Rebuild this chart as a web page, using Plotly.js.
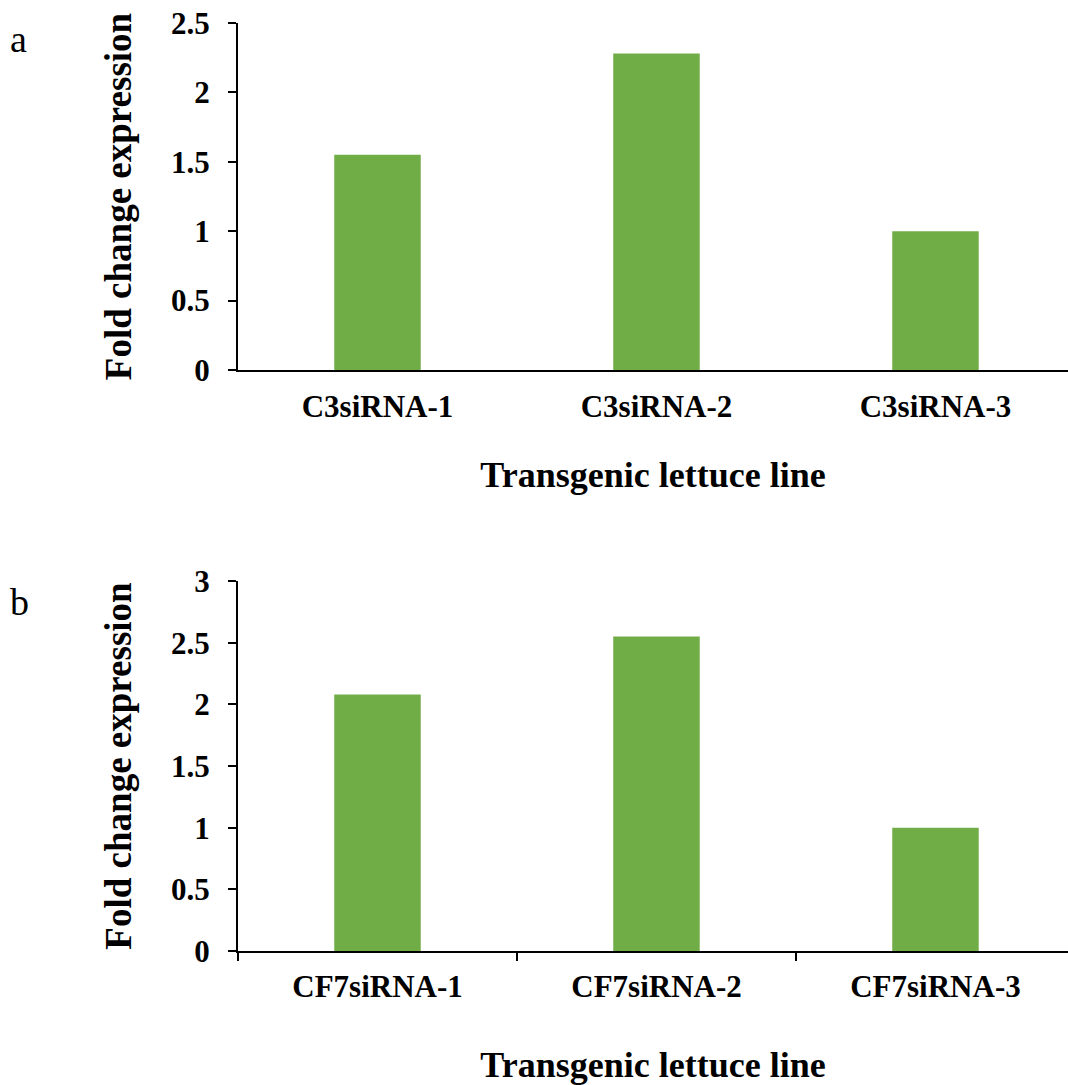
<!DOCTYPE html>
<html>
<head>
<meta charset="utf-8">
<script src="https://cdn.plot.ly/plotly-3.0.1.min.js"></script>
<style>
  html, body { margin: 0; padding: 0; background: #ffffff; overflow: hidden; }
  #chart { width: 1068px; height: 1085px; }
</style>
</head>
<body>
<div id="chart"></div>
<script>
// Panel a
const linesA = ["C3siRNA-1", "C3siRNA-2", "C3siRNA-3"];
const foldA = [1.55, 2.28, 1.0];
// Panel b
const linesB = ["CF7siRNA-1", "CF7siRNA-2", "CF7siRNA-3"];
const foldB = [2.08, 2.55, 1.0];

const yTicksA = [0, 0.5, 1, 1.5, 2, 2.5];
const yTicksB = [0, 0.5, 1, 1.5, 2, 2.5, 3];

const xTitle = "Transgenic lettuce line";
const yTitle = "Fold change expression";
const panelLabels = ["a", "b"];

const FONT = '"Liberation Serif", "Times New Roman", serif';
const GREEN = "#70AD47";

const traces = [
  {
    type: "bar", x: linesA, y: foldA, xaxis: "x", yaxis: "y",
    marker: { color: GREEN, line: { width: 0 } }, width: 0.31,
    hoverinfo: "x+y", showlegend: false
  },
  {
    type: "bar", x: linesB, y: foldB, xaxis: "x2", yaxis: "y2",
    marker: { color: GREEN, line: { width: 0 } }, width: 0.31,
    hoverinfo: "x+y", showlegend: false
  }
];

const tickFont = { family: FONT, size: 31, color: "#000000", weight: "bold" };
const titleFont = { family: FONT, size: 36, color: "#000000", weight: "bold" };
const yTitleFont = { family: FONT, size: 37, color: "#000000", weight: "bold" };

const baseY = {
  showline: true, linecolor: "#000000", linewidth: 2,
  ticks: "outside", ticklen: 8, tickwidth: 2, tickcolor: "#000000",
  showgrid: false, zeroline: false,
  tickfont: tickFont, ticklabelstandoff: 12,
  fixedrange: true
};

const baseX = {
  type: "category",
  showline: true, linecolor: "#000000", linewidth: 2,
  showgrid: false, zeroline: false,
  tickfont: tickFont,
  range: [-0.5, 2.475],
  fixedrange: true
};

const layout = {
  width: 1068, height: 1085,
  margin: { l: 238, r: 0, t: 23, b: 134 },
  paper_bgcolor: "#ffffff", plot_bgcolor: "#ffffff",
  font: { family: FONT, color: "#000000" },
  bargap: 0.69,
  xaxis: Object.assign({}, baseX, {
    anchor: "y", domain: [0, 1],
    categoryarray: linesA, categoryorder: "array",
    ticks: "", ticklabelstandoff: 8,
    title: { text: xTitle, font: titleFont, standoff: 39 }
  }),
  yaxis: Object.assign({}, baseY, {
    anchor: "x", domain: [0.6261, 1],
    range: [0, 2.5], tickvals: yTicksA,
    title: { text: yTitle, font: yTitleFont, standoff: 28 }
  }),
  xaxis2: Object.assign({}, baseX, {
    anchor: "y2", domain: [0, 1],
    categoryarray: linesB, categoryorder: "array",
    ticks: "outside", ticklen: 8, tickwidth: 2, tickcolor: "#000000",
    tickson: "boundaries", ticklabelstandoff: 7,
    title: { text: xTitle, font: titleFont, standoff: 52 }
  }),
  yaxis2: Object.assign({}, baseY, {
    anchor: "x2", domain: [0, 0.3987],
    range: [0, 3], tickvals: yTicksB,
    title: { text: yTitle, font: yTitleFont, standoff: 28 }
  }),
  annotations: [
    {
      text: panelLabels[0], xref: "paper", yref: "paper",
      x: (8 - 238) / 830, y: (951 - 39) / 928, xanchor: "left", yanchor: "middle",
      showarrow: false, font: { family: FONT, size: 38, color: "#000000" }
    },
    {
      text: panelLabels[1], xref: "paper", yref: "paper",
      x: (8 - 238) / 830, y: (951 - 602) / 928, xanchor: "left", yanchor: "middle",
      showarrow: false, font: { family: FONT, size: 38, color: "#000000" }
    }
  ]
};

Plotly.newPlot("chart", traces, layout, { displayModeBar: false, staticPlot: false, responsive: false });
</script>
</body>
</html>
